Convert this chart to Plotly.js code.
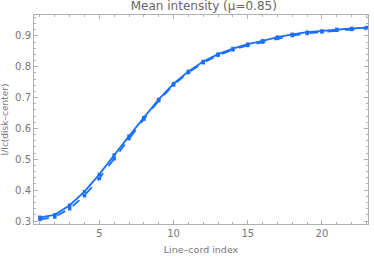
<!DOCTYPE html>
<html><head><meta charset="utf-8">
<script src="https://cdn.plot.ly/plotly-3.0.1.min.js"></script>
<style>html,body{margin:0;padding:0;background:#fff}#c{width:374px;height:258px}</style>
</head><body><div id="c"></div>
<script>
const xIdx = [1,2,3,4,5,6,7,8,9,10,11,12,13,14,15,16,17,18,19,20,21,22,23];
const solidVals = [0.312,0.320,0.351,0.395,0.451,0.514,0.575,0.635,0.694,0.745,0.785,0.817,0.841,0.859,0.873,0.884,0.896,0.905,0.912,0.916,0.921,0.924,0.927];
const dashedVals = [0.305,0.313,0.340,0.382,0.438,0.502,0.567,0.630,0.690,0.741,0.781,0.813,0.837,0.855,0.869,0.880,0.892,0.901,0.908,0.913,0.918,0.921,0.924];
const blue = '#1a6fff';
const traces = [
  {x: xIdx, y: dashedVals, mode: 'lines+markers', line: {color: blue, width: 1.8, dash: 'dash'}, marker: {color: blue, size: 3.5, symbol: 'square'}},
  {x: xIdx, y: solidVals, mode: 'lines+markers', line: {color: blue, width: 1.8}, marker: {color: blue, size: 3.5, symbol: 'square'}}
];
const ax = {
  showgrid: false, zeroline: false, showline: true, linecolor: '#b0b0b0', linewidth: 1,
  mirror: 'allticks', ticks: 'inside', ticklen: 4, tickcolor: '#b0b0b0',
  tickfont: {family: 'DejaVu Sans, sans-serif', size: 10, color: '#777'}
};
const layout = {
  width: 374, height: 258, showlegend: false,
  margin: {l: 34, r: 6, t: 15, b: 34},
  paper_bgcolor: '#fff', plot_bgcolor: '#fff',
  title: {text: 'Mean intensity (μ=0.85)', font: {family: 'DejaVu Sans, sans-serif', size: 12, color: '#666'}, x: 0.545, xanchor: 'center', y: 0.995, yanchor: 'top'},
  xaxis: Object.assign({}, ax, {range: [0.6, 23.1], tickvals: [5,10,15,20], ticktext: ['5','10','15','20'],
    minor: {dtick: 1, tick0: 0, ticks: 'inside', ticklen: 2, tickcolor: '#b0b0b0', showgrid: false},
    title: {text: 'Line\u2013cord index', font: {family: 'DejaVu Sans, sans-serif', size: 9.5, color: '#777'}, standoff: 8}}),
  yaxis: Object.assign({}, ax, {range: [0.2903, 0.9677], tickvals: [0.3,0.4,0.5,0.6,0.7,0.8,0.9], ticktext: ['0.3','0.4','0.5','0.6','0.7','0.8','0.9'],
    minor: {dtick: 0.02, tick0: 0, ticks: 'inside', ticklen: 2, tickcolor: '#b0b0b0', showgrid: false},
    title: {text: 'I/Ic(disk\u2013center)', font: {family: 'DejaVu Sans, sans-serif', size: 9, color: '#777'}, standoff: 4}})
};
Plotly.newPlot('c', traces, layout, {displayModeBar: false, staticPlot: true});
</script></body></html>
